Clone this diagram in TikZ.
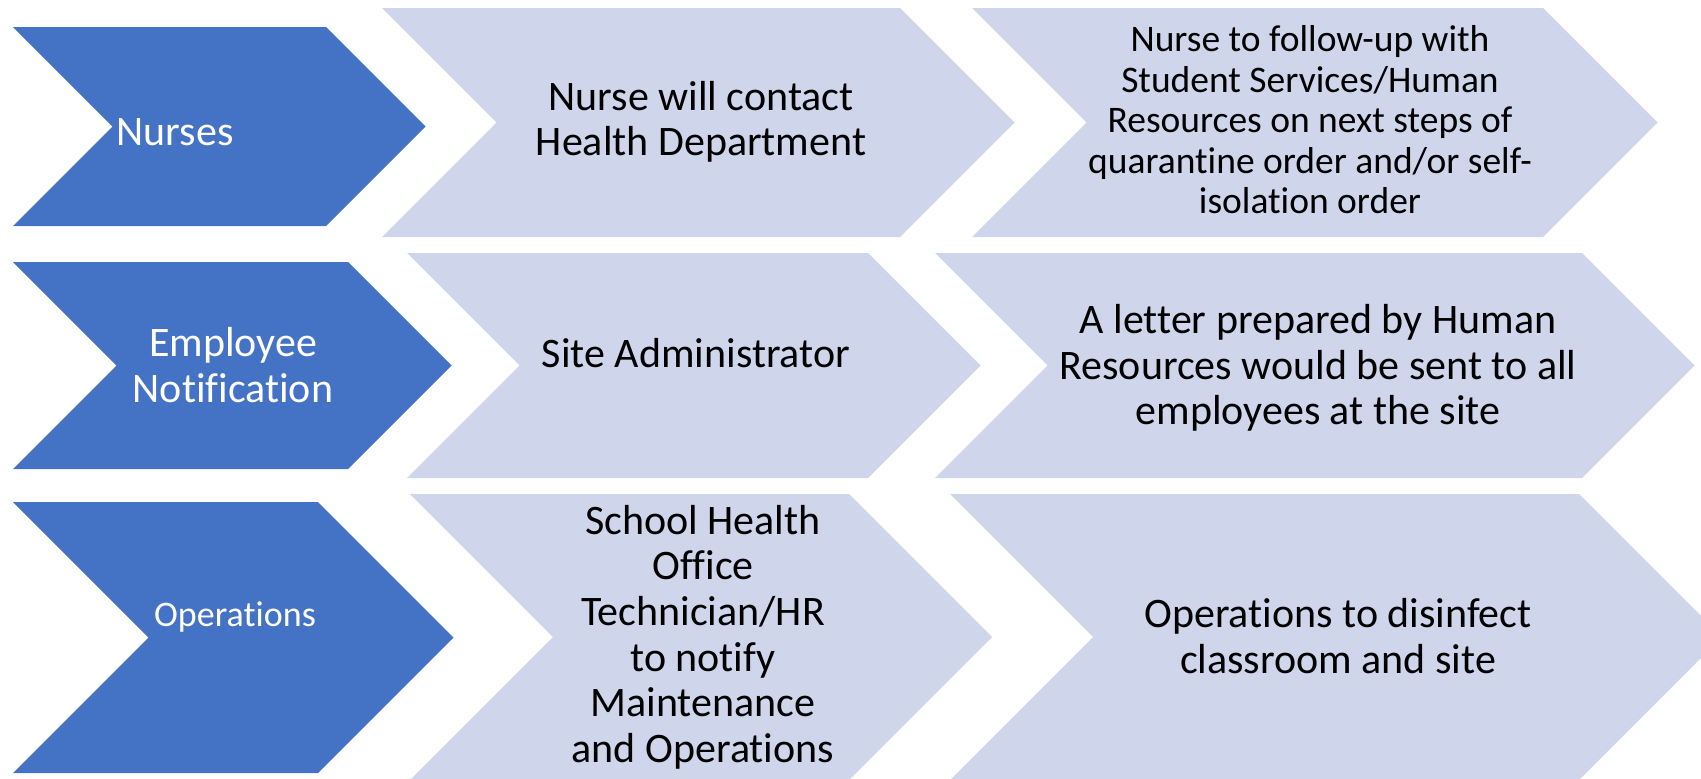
\documentclass[tikz,border=0pt]{standalone}
\usepackage{fontspec}
\setmainfont{Carlito}[Ligatures={NoCommon,NoContextual}]
\definecolor{chevblue}{HTML}{4472C4}
\definecolor{chevlight}{HTML}{CFD5EA}
% #1 fill style, #2 left x, #3 right x (body), #4 top y, #5 bottom y
\newcommand\chevshape[5]{%
  \fill[#1] (#2,#4) -- (#3,#4) -- ({#3+(#5-#4)/2},{(#4+#5)/2}) -- (#3,#5) -- (#2,#5)
    -- ({#2+(#5-#4)/2},{(#4+#5)/2}) -- cycle;}
\tikzset{
  bluefill/.style={fill=chevblue},
  lightfill/.style={fill=chevlight},
  bluetxt/.style={text=white, align=center, inner sep=0pt, font=\fontsize{42}{46}\selectfont},
  lighttxt/.style={text=black, align=center, inner sep=0pt, font=\fontsize{42}{45.6}\selectfont},
}
\begin{document}
\begin{tikzpicture}[x=1pt,y=-1pt]
\useasboundingbox (0,0) rectangle (1701,779);
\begin{scope}
\clip (0,0) rectangle (1701,779);
% row 1
\chevshape{bluefill}{13}{326}{27}{226}
\chevshape{lightfill}{382}{900}{8}{237}
\chevshape{lightfill}{972}{1543}{8}{237}
% row 2
\chevshape{bluefill}{13}{348}{262}{469}
\chevshape{lightfill}{407}{868}{253}{478}
\chevshape{lightfill}{935}{1582}{253}{478}
% row 3
\chevshape{bluefill}{13}{318}{502}{773}
\chevshape{lightfill}{410}{849}{494}{780}
\chevshape{lightfill}{950}{1579}{494}{780}
\end{scope}
% texts
\node[bluetxt] (nurses) at (175,132) {Nurses};
\node[lighttxt] (contact) at (701,122) {Nurse will contact\\Health Department};
\node[lighttxt, font=\fontsize{37.5}{40.5}\selectfont] (followup) at (1310,120)
  {Nurse to follow-up with\\Student Services/Human\\Resources on next steps of\\quarantine order and/or self-\\isolation order};
\node[bluetxt] (employee) at (233,365) {Employee\\Notification};
\node[lighttxt] (siteadmin) at (696,353) {Site Administrator};
\node[lighttxt] (letter) at (1318,368) {A letter prepared by Human\\Resources would be sent to all\\employees at the site};
\node[bluetxt, font=\fontsize{36}{40}\selectfont] (operations) at (235,617) {Operations};
\node[lighttxt] (technician) at (703,637) {School Health\\Office\\Technician/HR\\to notify\\Maintenance\\and Operations};
\node[lighttxt] (disinfect) at (1338,636) {Operations to disinfect\\classroom and site};
\end{tikzpicture}
\end{document}
